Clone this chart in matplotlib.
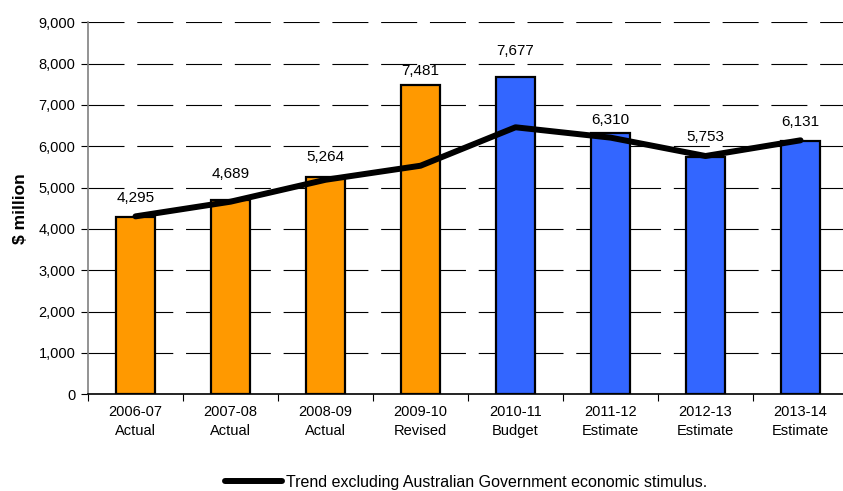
import numpy as np
import matplotlib
matplotlib.use("Agg")
import matplotlib.pyplot as plt
from matplotlib.lines import Line2D
from matplotlib.ticker import FuncFormatter

plt.rcParams["font.family"] = ["Liberation Sans", "DejaVu Sans"]

# ---------- Datos ----------
years = ["2006-07", "2007-08", "2008-09", "2009-10", "2010-11", "2011-12", "2012-13", "2013-14"]
status = ["Actual", "Actual", "Actual", "Revised", "Budget", "Estimate", "Estimate", "Estimate"]
values = [4295, 4689, 5264, 7481, 7677, 6310, 5753, 6131]
trend = [4305, 4660, 5190, 5530, 6460, 6210, 5765, 6145]
bar_colors = ["#FF9900"] * 4 + ["#3366FF"] * 4

# separación (px) entre la parte alta de la barra y el centro de la etiqueta
label_gap_px = [19, 26, 20, 14, 26, 13, 20, 19]

# ---------- Figura ----------
fig = plt.figure(figsize=(8.43, 4.91), dpi=100)
ax = fig.add_axes([88 / 843, 1 - 394.3 / 491, 760 / 843, 372 / 491])

x = np.arange(len(values))
ax.bar(x, values, width=0.42, color=bar_colors, edgecolor="black", linewidth=1.6, zorder=3)
ax.plot(x, trend, color="black", linewidth=4.3, solid_capstyle="round", zorder=4)

for xi, v, g in zip(x, values, label_gap_px):
    ax.annotate(f"{v:,}", (xi, v), xytext=(0, g * 0.72), textcoords="offset points",
                ha="center", va="center", fontsize=11, zorder=5)

ax.set_xlim(-0.5, 7.5)
ax.set_ylim(0, 9000)
ax.set_yticks(range(0, 9001, 1000))
ax.yaxis.set_major_formatter(FuncFormatter(lambda v, p: f"{int(v):,}"))

# Etiquetas de categoría centradas, ticks en los límites
ax.set_xticks(x)
ax.set_xticklabels([f"{y}\n{s}" for y, s in zip(years, status)], fontsize=10.5, linespacing=1.45)
ax.tick_params(axis="x", which="major", length=0, pad=8)
ax.set_xticks(np.arange(-0.5, 8, 1), minor=True)
ax.tick_params(axis="x", which="minor", length=5, direction="out", width=0.8)
ax.tick_params(axis="y", length=5, direction="out", width=0.8, labelsize=10.5, pad=4)

ax.yaxis.grid(True, color="black", linewidth=0.8, linestyle=(0, (32.4, 11.5)), zorder=0)
ax.set_axisbelow(True)

for side in ["top", "right"]:
    ax.spines[side].set_visible(False)
ax.spines["left"].set_color("#808080")
ax.spines["left"].set_linewidth(1.2)
ax.spines["bottom"].set_color("black")
ax.spines["bottom"].set_linewidth(1.2)

ax.set_ylabel("$ million", fontsize=12.5, fontweight="bold", labelpad=8)

handle = Line2D([0], [0], color="black", linewidth=4.3, solid_capstyle="round")
fig.legend([handle], ["Trend excluding Australian Government economic stimulus."],
           loc="center", bbox_to_anchor=(466 / 843, 1 - 482 / 491), frameon=False,
           fontsize=11.5, handlelength=3.6, handletextpad=0.25)

fig.savefig("out.png", dpi=100)
